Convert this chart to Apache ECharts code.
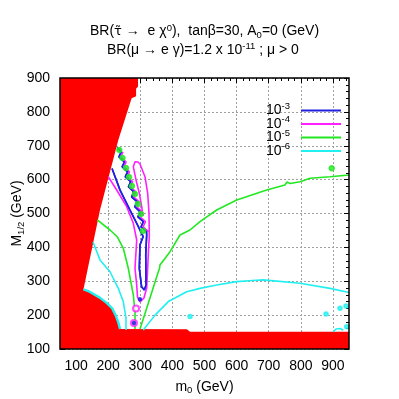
<!DOCTYPE html>
<html>
<head>
<meta charset="utf-8">
<script src="https://cdn.jsdelivr.net/npm/echarts@6/dist/echarts.min.js"></script>
<style>
  html, body { margin: 0; padding: 0; background: #fff; }
  #chart { width: 399px; height: 399px; }
</style>
</head>
<body>
<div id="chart"></div>
<script>
// axis ticks (GeV)
const xTicks = [100, 200, 300, 400, 500, 600, 700, 800, 900];
const xMinorTicks = [];
for (let v = 60; v < 950; v += 20) if (v % 100 !== 0) xMinorTicks.push(v);

// legend names, one per BR level
const levels = ['10-3', '10-4', '10-5', '10-6'];

// excluded region (m0, M1/2)
const redRegion = [[50, 900], [293, 900], [293, 875], [287, 868], [287, 846], [273, 840],
  [231.6, 717], [174.6, 510],
  [123, 276], [138, 271], [175, 251], [195, 236], [212, 221], [223, 200], [231, 180], [237, 159],
  [445, 158], [455, 151], [950, 151], [950, 100], [50, 100]];
const cyanEdge = [[123, 276], [138, 271], [175, 251], [195, 236], [212, 221], [223, 200], [231, 180], [237, 159]];

// BR = 1e-3
const blueMain = [[212, 633], [237, 569], [268, 510], [289, 471], [309, 432], [299, 407], [297, 338],
  [304, 284], [312.5, 274], [318, 289], [317, 378], [320, 437],
  [319.4, 446], [302.5, 461], [309.6, 476], [292.7, 490], [299.7, 505], [282.8, 520], [289.9, 535],
  [273, 549], [280.1, 564], [263.1, 579], [270.2, 594], [253.3, 608], [260.4, 623], [243.5, 638],
  [250.5, 652], [233.6, 667], [240.7, 682], [228, 695]];
const blueDots = [[299, 247], [280.4, 176.8]];

// BR = 1e-4
const magentaMain = [[308.5, 492.6], [304.4, 520.1], [297, 559.6], [286.7, 599], [278.3, 638.2],
  [283.6, 652.9], [292.9, 652], [299.1, 646], [314.7, 608.6], [323.1, 559.6], [327.2, 500.6],
  [328.1, 431.5], [325.6, 392.2], [323.1, 339], [320, 280.1], [311.5, 250.5], [299.1, 238.7],
  [291.3, 253.5], [288.9, 288.9], [283.6, 338.2], [288.9, 421.8], [278.3, 471.1], [257.7, 520.1],
  [226.6, 569.4], [200.4, 608.6]];
const magentaFringe = [[326, 446], [309, 461], [316, 476], [299, 490], [306, 505], [289, 520], [296, 535],
  [279, 549], [286, 564], [269, 579], [276, 594], [259, 608], [266, 623], [249, 638], [256, 652],
  [239, 667], [246, 682]];
const magentaRings = [[286.7, 219.6], [280.4, 176.8]];

// BR = 1e-5
const greenLeft = [[166, 481], [205.7, 451.3], [229, 430.6], [247.1, 397.3], [262.7, 338.2],
  [278.3, 259.4], [283.6, 210.1], [283.6, 159]];
const greenRight = [[299.1, 159], [320, 220.1], [356.1, 328.2], [359.8, 337.6], [355.2, 343.5],
  [361.4, 348], [392.6, 387.2], [423.7, 436.5], [454.8, 451.3], [486, 475.8], [538, 510.3],
  [600.3, 539.8], [693.7, 569.4], [750.7, 584.1], [757, 593], [766.6, 588.6], [797.4, 593.9],
  [828.6, 603.9], [890.8, 608.6], [950, 613.6]];
const greenDots = [[234.7, 687.4], [244.6, 663.8], [255.5, 634.3], [264.9, 607.7], [274.2, 581.2],
  [283.6, 557.6], [292.9, 528], [302.2, 498.5], [308.5, 448.3], [896.1, 633.4]];

// BR = 1e-6
const cyanLeft = [[152.8, 416], [174.6, 363], [205.7, 328], [231.6, 279], [247.1, 240], [255.5, 191], [255.5, 156]];
const cyanRight = [[309.4, 156], [345.9, 200], [387.3, 240], [444.6, 269], [486, 279], [538, 289],
  [600.3, 299], [650, 302], [682, 304], [700, 302.5], [797.4, 294], [890.8, 279], [950, 267]];
const cyanArc = [[901, 151], [909.5, 159], [922, 160.5], [932, 156]];
const cyanDots = [[454.8, 196], [878.4, 203], [922, 220], [940.7, 227], [942.9, 166]];

const FONT = 'Liberation Sans';
const BLUE = '#2020e0', MAGENTA = '#ff20ff', GREEN = '#22e822', CYAN = '#22f0f0';

function contour(name, color, data, width) {
  return {
    name: name, type: 'line', data: data, symbol: 'none', showSymbol: false, z: 3,
    lineStyle: { color: color, width: width || 1.5 }, itemStyle: { color: color }
  };
}
function dots(name, color, data, size, symbol) {
  return {
    name: name, type: 'scatter', data: data, z: 4, symbol: symbol || 'circle', symbolSize: size,
    itemStyle: { color: color, borderColor: color, borderWidth: 1.5 }
  };
}

const rich = {
  b: { fontFamily: FONT, fontSize: 14, fontWeight: 'normal', color: '#000', lineHeight: 17 },
  t: { fontFamily: 'DejaVu Sans', fontSize: 13, fontWeight: 'normal', color: '#000', lineHeight: 17 },
  sup: { fontFamily: FONT, fontSize: 9.5, fontWeight: 'normal', color: '#000', lineHeight: 11, verticalAlign: 'top' },
  sub: { fontFamily: FONT, fontSize: 9.5, fontWeight: 'normal', color: '#000', lineHeight: 11, verticalAlign: 'bottom' }
};
const legendRich = {
  b: { fontFamily: FONT, fontSize: 14, color: '#000', lineHeight: 15 },
  sup: { fontFamily: FONT, fontSize: 9.5, color: '#000', lineHeight: 10, verticalAlign: 'top', padding: [-2, 6, 0, 0] }
};

const chart = echarts.init(document.getElementById('chart'));
chart.setOption({
  animation: false,
  title: [{
    text: '{b|BR(}{t|τ̃}{b| →  e χ}{sup|0}{b|),  tanβ=30, A}{sub|0}{b|=0 (GeV)}',
    left: 90, top: 23, padding: 0,
    textStyle: { fontWeight: 'normal', rich: rich }
  }, {
    text: '{b|BR(μ → e γ)=1.2 x 10}{sup|-11}{b| ; μ > 0}',
    left: 107, top: 41.5, padding: 0,
    textStyle: { fontWeight: 'normal', rich: rich }
  }],
  legend: {
    data: levels.map(n => ({ name: n, icon: 'rect' })),
    orient: 'vertical', align: 'right',
    right: 58, top: 101, padding: 0,
    itemWidth: 40, itemHeight: 2, itemGap: -3,
    formatter: n => '{b|10}{sup|' + n.slice(2) + '}',
    textStyle: { rich: legendRich }
  },
  grid: {
    left: 60, right: 50, top: 78, bottom: 50, outerBoundsMode: 'none',
    show: true, borderColor: '#000', borderWidth: 1.5, backgroundColor: 'transparent', z: 10
  },
  xAxis: [{
    type: 'value', min: 50, max: 950, splitNumber: 9,
    name: '{b|m}{sub|0}{b| (GeV)}', nameLocation: 'middle', nameGap: 29.5, nameMoveOverlap: false,
    nameTextStyle: { rich: rich },
    axisLine: { show: false },
    axisTick: { inside: true, length: 5, customValues: xTicks, lineStyle: { color: '#000' } },
    axisLabel: { customValues: xTicks, margin: 10, fontFamily: FONT, fontSize: 14, color: '#000' },
    splitLine: { show: true, lineStyle: { color: '#a0a0a0', type: [2, 2], width: 1 } }
  }, {
    type: 'value', min: 50, max: 950, position: 'top',
    axisLine: { show: false }, axisLabel: { show: false }, splitLine: { show: false },
    axisTick: { inside: true, length: 5, customValues: xTicks, lineStyle: { color: '#000' } }
  }, {
    type: 'value', min: 50, max: 950, position: 'top',
    axisLine: { show: false }, axisLabel: { show: false }, splitLine: { show: false },
    axisTick: { inside: true, length: 3, customValues: xMinorTicks, lineStyle: { color: '#000' } }
  }],
  yAxis: [{
    type: 'value', min: 100, max: 900, interval: 100,
    name: '{b|M}{sub|1/2}{b| (GeV)}', nameLocation: 'middle', nameGap: 34, nameMoveOverlap: false,
    nameTextStyle: { rich: rich },
    axisLine: { show: false },
    axisTick: { inside: true, length: 5, lineStyle: { color: '#000' } },
    minorTick: { show: true, splitNumber: 5, length: 3, lineStyle: { color: '#000' } },
    axisLabel: { margin: 10, fontFamily: FONT, fontSize: 14, color: '#000' },
    splitLine: { show: true, lineStyle: { color: '#a0a0a0', type: [2, 2], width: 1 } }
  }, {
    type: 'value', min: 100, max: 900, interval: 100, position: 'right',
    axisLine: { show: false }, axisLabel: { show: false }, splitLine: { show: false },
    axisTick: { inside: true, length: 5, lineStyle: { color: '#000' } },
    minorTick: { show: true, splitNumber: 5, length: 3, lineStyle: { color: '#000' } }
  }],
  series: [
    contour('10-3', BLUE, blueMain, 1.6),
    contour('10-4', MAGENTA, magentaMain, 1.6),
    contour('10-5', GREEN, greenLeft, 1.6),
    contour('10-6', CYAN, cyanLeft, 1.6),
    { name: 'edge', type: 'line', data: cyanEdge, symbol: 'none', z: 2,
      lineStyle: { color: CYAN, width: 2.4 } },
    { name: 'excluded', type: 'custom', z: 2, data: [redRegion[0]],
      renderItem: (params, api) => ({
        type: 'polygon',
        shape: { points: redRegion.map(p => api.coord(p)) },
        style: { fill: '#ff0000' }
      })
    },
    contour('10-4', MAGENTA, magentaFringe, 1.6),
    contour('10-5', GREEN, greenRight, 1.6),
    contour('10-6', CYAN, cyanRight, 1.6),
    contour('10-6', CYAN, cyanArc, 1.6),
    dots('dots-5', GREEN, greenDots, 5),
    dots('dots-6', CYAN, cyanDots, 4),
    dots('rings-4', MAGENTA, magentaRings, 6, 'emptyCircle'),
    dots('dots-3', BLUE, blueDots, 3),
    // blue again so it sits on top of its fringes
    contour('10-3', BLUE, blueMain, 1.6)
  ]
});
</script>
</body>
</html>
